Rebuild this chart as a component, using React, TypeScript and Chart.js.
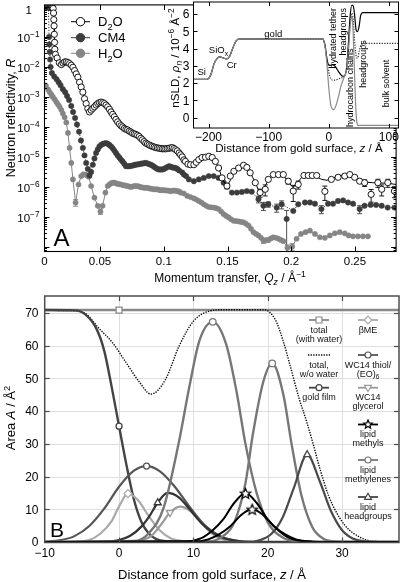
import React, { useEffect, useRef } from 'react';
import { Chart, registerables } from 'chart.js';

Chart.register(...registerables);

const FONT = '"Liberation Sans", Arial, Helvetica, sans-serif';

// ---------------- Panel A: reflectivity [Q (1/Å), log10 R, relative error] ----------------
const d2oData: number[][] = [
  [0.0112,-0.02],[0.0119,-0.01],[0.0126,-0.02],[0.0132,-0.05],[0.0135,-0.2],[0.0137,-0.42],[0.0139,-0.63],[0.0141,-0.91],
  [0.0143,-1.18],[0.0145,-1.41],[0.0150,-1.58],[0.0163,-1.7],[0.0180,-1.86],[0.0196,-1.92],[0.0209,-1.87],[0.0222,-1.83],
  [0.0235,-1.83],[0.0248,-1.85],[0.0261,-1.89],[0.0274,-1.94],[0.0287,-2.01],[0.0300,-2.12],[0.0313,-2.23],[0.0326,-2.34],
  [0.0339,-2.51],[0.0352,-2.67],[0.0365,-2.84],[0.0378,-3.06],[0.0391,-3.22],[0.0404,-3.39],[0.0417,-3.50],[0.0430,-3.44],
  [0.0443,-3.38],[0.0456,-3.33],[0.0469,-3.27],[0.0482,-3.22],[0.0495,-3.19],[0.0508,-3.17],[0.0521,-3.19],[0.0534,-3.22],
  [0.0547,-3.27],[0.0560,-3.33],[0.0573,-3.41],[0.0586,-3.50],[0.0599,-3.58],[0.0612,-3.66],[0.0625,-3.75],[0.0638,-3.83],
  [0.0651,-3.90],[0.0664,-3.96],[0.0677,-4.00],[0.0690,-4.05],[0.0703,-4.08],[0.0716,-4.10],[0.0729,-4.14],[0.0742,-4.17],
  [0.0755,-4.21],[0.0768,-4.23],[0.0781,-4.25],[0.0794,-4.28],[0.0807,-4.32],[0.0820,-4.38],[0.0833,-4.43],[0.0846,-4.49],
  [0.0859,-4.54],[0.0872,-4.57],[0.0885,-4.60],[0.0898,-4.63],[0.0911,-4.65],[0.0924,-4.67],[0.0937,-4.69],[0.0950,-4.70],
  [0.0963,-4.71],[0.0976,-4.72],[0.0989,-4.73],[0.1002,-4.73],[0.1015,-4.73],[0.1028,-4.72],[0.1041,-4.71],[0.1054,-4.70],
  [0.1067,-4.69],[0.1080,-4.72],[0.1093,-4.76],[0.1106,-4.80],[0.1120,-4.87],[0.1132,-4.93],[0.1145,-5.00],[0.1158,-5.10],
  [0.1170,-5.15],[0.1190,-5.24],[0.1210,-5.26],[0.1236,-5.26],[0.1255,-5.18],[0.1275,-5.09],[0.1300,-5.02],[0.1327,-5.01],
  [0.1353,-4.98],[0.1380,-5.02],[0.1405,-5.15],[0.1430,-5.37],[0.1457,-5.70],[0.1496,-5.97,0.2],[0.1522,-5.64],[0.1550,-5.48],
  [0.1587,-5.37],[0.1626,-5.28],[0.1652,-5.35],[0.1678,-5.53],[0.1718,-5.86],[0.1756,-6.19,0.3],[0.1796,-6.08,0.4],[0.1820,-5.75],
  [0.1860,-5.59],[0.1900,-5.59],[0.1938,-5.59],[0.1977,-5.81,0.2],[0.2016,-6.14,0.55],[0.2055,-5.92,0.3],[0.2100,-5.62],[0.2134,-5.62],
  [0.2165,-5.62],[0.2200,-5.62],[0.2264,-6.15,0.5],[0.2315,-5.75],[0.2368,-5.68],[0.2420,-5.64],[0.2460,-5.59],[0.2498,-5.68],
  [0.2537,-5.81],[0.2576,-5.86,0.25],[0.2627,-6.25,0.45],[0.2680,-5.86,0.3],[0.2710,-6.08,0.4],[0.2758,-5.86,0.3],[0.2810,-6.14,0.4]
];
const d2oFit: number[][] = [
  [0.1106,-4.8],[0.114,-4.95],[0.118,-5.15],[0.1215,-5.24],[0.125,-5.2],[0.129,-5.07],[0.133,-5.0],[0.137,-5.0],[0.140,-5.1],
  [0.143,-5.35],[0.146,-5.75],[0.1495,-5.97],[0.152,-5.8],[0.155,-5.5],[0.158,-5.35],[0.162,-5.27],[0.166,-5.38],[0.170,-5.7],
  [0.1745,-6.12],[0.1775,-6.15],[0.181,-5.85],[0.185,-5.62],[0.190,-5.56],[0.194,-5.62],[0.198,-5.85],[0.2015,-6.02],[0.205,-5.85],
  [0.209,-5.64],[0.214,-5.6],[0.219,-5.65],[0.224,-5.75],[0.228,-5.78],[0.233,-5.7],[0.238,-5.62],[0.243,-5.6],[0.248,-5.66],
  [0.253,-5.78],[0.258,-5.84],[0.264,-5.86],[0.270,-5.87],[0.276,-5.88],[0.2823,-5.92]
];
const cm4Data: number[][] = [
  [0.0072,-0.01],[0.0080,-0.01],[0.0088,-0.02],[0.0095,-0.02],[0.0100,-1.0],[0.0102,-1.25],[0.0105,-1.5],[0.0108,-1.75],
  [0.0112,-2.0],[0.0122,-2.2],[0.0140,-2.32],[0.0159,-2.41],[0.0175,-2.51],[0.0190,-2.61],[0.0208,-2.74],[0.0226,-2.84],
  [0.0241,-2.97],[0.0257,-3.10],[0.0274,-3.30],[0.0288,-3.50],[0.0304,-3.70],[0.0319,-3.92],[0.0335,-4.16],[0.0350,-4.45],
  [0.0365,-4.70],[0.0378,-4.95],[0.0391,-5.20],[0.0404,-5.40],[0.0417,-5.62,0.15],[0.0430,-5.50],[0.0443,-5.26],[0.0456,-5.05],
  [0.0469,-4.87],[0.0482,-4.75],[0.0495,-4.65],[0.0508,-4.60],[0.0521,-4.57],[0.0534,-4.55],[0.0547,-4.54],[0.0560,-4.56],
  [0.0573,-4.60],[0.0586,-4.65],[0.0599,-4.71],[0.0612,-4.79],[0.0625,-4.87],[0.0638,-4.95],[0.0651,-5.02],[0.0664,-5.09],
  [0.0677,-5.15],[0.0690,-5.23],[0.0703,-5.31],[0.0716,-5.31],[0.0729,-5.31],[0.0742,-5.30],[0.0755,-5.29],[0.0768,-5.27],
  [0.0781,-5.26],[0.0794,-5.25],[0.0807,-5.24],[0.0820,-5.23],[0.0833,-5.22],[0.0846,-5.21],[0.0859,-5.20],[0.0872,-5.22],
  [0.0885,-5.24],[0.0898,-5.26],[0.0911,-5.29],[0.0924,-5.33],[0.0937,-5.37],[0.0950,-5.40],[0.0963,-5.42],[0.0976,-5.42],
  [0.0989,-5.42],[0.1002,-5.40],[0.1015,-5.37],[0.1028,-5.34],[0.1041,-5.31],[0.1054,-5.33],[0.1067,-5.35],[0.1080,-5.36],
  [0.1093,-5.37],[0.1106,-5.40],[0.1120,-5.45],[0.1145,-5.52],[0.1158,-5.59],[0.1175,-5.64],[0.1197,-5.75],[0.1236,-5.81],
  [0.1275,-5.75],[0.1314,-5.70],[0.1353,-5.64],[0.1392,-5.64],[0.1430,-5.70],[0.1470,-5.86],[0.1496,-5.97],[0.1535,-6.19],
  [0.1574,-6.19],[0.1613,-6.17],[0.1652,-6.14],[0.1690,-6.16],[0.1743,-6.41,0.25],[0.1782,-6.63,0.3],[0.1820,-6.58,0.2],
  [0.1886,-6.69,0.3],[0.1925,-6.58,0.3],[0.1964,-7.07,0.93],[0.2016,-6.80],[0.2055,-6.58],[0.2108,-6.52],[0.2147,-6.52],
  [0.2186,-6.56],[0.2237,-6.74,0.3],[0.2289,-6.56],[0.2328,-6.56],[0.2367,-6.47],[0.2407,-6.45],[0.2446,-6.52],[0.2485,-6.56],
  [0.2537,-6.74,0.3],[0.2576,-6.63],[0.2623,-6.60],[0.2666,-6.60],[0.2710,-6.63],[0.2757,-6.69],[0.2810,-6.69]
];
const h2oData: number[][] = [
  [0.0075,-2.62],[0.0092,-2.75],[0.0105,-2.84],[0.0118,-2.92],[0.0130,-3.0],[0.0144,-3.08],[0.0157,-3.17],[0.0170,-3.25],
  [0.0183,-3.33],[0.0196,-3.43],[0.0208,-3.55],[0.0222,-3.68],[0.0235,-3.85],[0.0248,-4.2],[0.0261,-4.7],[0.0274,-5.2],
  [0.0287,-5.75],[0.0308,-6.52,0.25],[0.0331,-5.92],[0.0352,-5.64],[0.0369,-5.58],[0.0386,-5.59],[0.0398,-5.62],[0.0411,-5.66],
  [0.0430,-5.97],[0.0456,-6.36],[0.0482,-6.63],[0.0503,-6.82,0.2],[0.0520,-6.63],[0.0542,-6.19],[0.0560,-5.97],[0.0573,-5.92],
  [0.0586,-5.88],[0.0599,-5.86],[0.0612,-5.86],[0.0625,-5.88],[0.0638,-5.90],[0.0651,-5.91],[0.0664,-5.92],[0.0677,-5.94],
  [0.0690,-5.95],[0.0703,-5.96],[0.0716,-5.97],[0.0729,-5.99],[0.0742,-6.00],[0.0755,-5.99],[0.0768,-5.97],[0.0781,-5.97],
  [0.0794,-5.97],[0.0807,-5.99],[0.0820,-6.01],[0.0833,-6.02],[0.0846,-6.03],[0.0859,-6.03],[0.0872,-6.03],[0.0885,-6.05],
  [0.0898,-6.06],[0.0911,-6.07],[0.0924,-6.08],[0.0937,-6.08],[0.0950,-6.08],[0.0963,-6.10],[0.0976,-6.11],[0.0989,-6.11],
  [0.1002,-6.11],[0.1015,-6.12],[0.1028,-6.12],[0.1041,-6.13],[0.1054,-6.14],[0.1067,-6.13],[0.1080,-6.12],[0.1093,-6.13],
  [0.1106,-6.14],[0.1120,-6.15],[0.1132,-6.19],[0.1158,-6.22],[0.1184,-6.30],[0.1210,-6.34],[0.1236,-6.38],[0.1255,-6.42],
  [0.1275,-6.47],[0.1295,-6.52],[0.1314,-6.58],[0.1334,-6.63],[0.1353,-6.67],[0.1372,-6.68],[0.1392,-6.69],[0.1411,-6.71],
  [0.1430,-6.74],[0.1450,-6.82],[0.1470,-6.91],[0.1490,-6.97],[0.1509,-7.02],[0.1528,-7.08],[0.1548,-7.13],[0.1567,-7.14],
  [0.1587,-7.15],[0.1606,-7.17],[0.1626,-7.18],[0.1645,-7.23],[0.1665,-7.29],[0.1685,-7.40],[0.1704,-7.51],[0.1724,-7.57],
  [0.1743,-7.62],[0.1763,-7.70],[0.1782,-7.79,0.2],[0.1801,-7.78],[0.1820,-7.77,0.15],[0.1840,-7.72],[0.1860,-7.68],[0.1880,-7.70],
  [0.1900,-7.73],[0.1919,-7.77],[0.1938,-7.81],[0.1970,-8.03,0.25],[0.2008,-7.99,0.25],[0.2042,-7.73],[0.2076,-7.57],[0.2112,-7.51],
  [0.2147,-7.46],[0.2186,-7.57],[0.2225,-7.68],[0.2264,-7.70],[0.2303,-7.62],[0.2342,-7.55],[0.2381,-7.51],[0.2420,-7.55],
  [0.2451,-7.62],[0.2485,-7.65],[0.2524,-7.65],[0.2563,-7.65],[0.2602,-7.65]
];
const qTicks = [0.05, 0.1, 0.15, 0.2, 0.25];
const qTickLabels = ['0.05', '0.1', '0.15', '0.2', '0.25'];
const qMin = 0.0064;
const qMax = 0.2823;
const logRMin = -8.15;
const logRMax = 0.07;
const rDecades = [-1, -2, -3, -4, -5, -6, -7];

// ---------------- Inset: nSLD profiles [z (Å), nSLD (10^-6 Å^-2)] ----------------
const nsldSubstrate: number[][] = [
  [-225,2.22],[-204,2.22],[-200,2.26],[-196,2.5],[-191,3.1],[-186,3.42],[-181,3.52],[-176,3.46],[-170,3.4],
  [-165,3.55],[-160,4.0],[-155,4.4],[-150,4.55],[-100,4.56],[-50,4.56],[-10,4.56]
];
const nsldD2OTail: number[][] = [
  [-6,4.15],[-3.3,3.45],[-0.5,3.07],[2.3,3.03],[6.7,3.07],[10.6,2.97],[16,2.68],[21.6,2.43],[25.5,2.39],[30,2.97],
  [32.7,4.31],[35.5,5.85],[38.2,6.5],[40.5,6.5],[42.7,6.04],[45.5,5.08],[47.7,4.98],[50.4,5.27],[53.2,5.94],[56.5,6.08],
  [63,6.08],[116,6.08]
];
const nsldCM4Tail: number[][] = [
  [-6,4.1],[-3.3,3.5],[0,2.65],[3,2.28],[6,2.18],[10,2.17],[15,2.22],[20,2.3],[25.5,2.39],[30,2.9],[32.7,4.1],
  [35.5,5.5],[38.5,6.05],[41,5.5],[43.5,4.2],[46,3.5],[48,3.45],[51,3.9],[54,4.25],[58,4.3],[116,4.3]
];
const nsldH2OTail: number[][] = [
  [-6,4.05],[-3.3,3.2],[0,1.75],[3,0.8],[6,0.5],[8.5,0.47],[12,0.7],[16,1.2],[20,1.8],[25.5,2.35],[30,2.85],[33,4.0],
  [36,5.4],[38.5,5.9],[40.5,5.0],[42.5,2.9],[44.5,0.9],[46.5,-0.2],[49,-0.45],[116,-0.45]
];
const insetZTicks = [-200, -100, 0, 100];
const insetZLabels = ['\u2212200', '\u2212100', '0', '100'];
const insetNsldTicks = [0, 1, 2, 3, 4, 5, 6];

// ---------------- Panel B: area profiles [z (Å), A (Å^2)] ----------------
const bTotalWater: number[][] = [[-10,70.9],[0,70.9],[37.65,70.9]];
const bTotalDry: number[][] = [
  [-10,70.8],[-6,70.7],[-4.5,69.8],[-2.7,65.3],[-0.9,61],[0.9,55],[2.7,49],[4.3,45.2],[6.2,49.5],[8.1,60],[10,67.5],
  [12,70.5],[14,71],[19.5,71],[21,68],[22,62],[23,54],[24.2,44],[25.2,37],[26.1,30],[27,22.5],[28.2,14],[29.3,8.8],
  [30.4,5],[31.5,2.7],[33.3,0.6],[35,0.1],[37.65,0]
];
const bGold: number[][] = [
  [-10,70.9],[-6,70.8],[-4.5,69.5],[-3,65],[-2,58.5],[-1,47.5],[0,35.4],[1,23.5],[2,13],[3,6.2],[4,2.6],[5,0.9],
  [6.5,0.15],[8,0],[37.65,0]
];
const bThiol: number[][] = [
  [-10,0.1],[-8,0.5],[-6,1.8],[-4,4.9],[-2,10.2],[0,16.9],[2,21.8],[3.7,23.2],[5.5,21.6],[7.5,16.9],[9.5,10.7],
  [11.5,5.2],[13.5,1.9],[15.5,0.5],[18,0],[37.65,0]
];
const bBME: number[][] = [
  [-10,0],[-6,0.1],[-4,0.6],[-2.5,2.6],[-1,6.4],[0,10.9],[1.2,14.8],[2.5,12.9],[4,7.9],[5.5,3.5],[7,1.1],[9,0.2],
  [11,0],[37.65,0]
];
const bGlycerol: number[][] = [
  [-10,0],[1,0],[3,0.5],[4.5,2.2],[5.8,5.8],[6.85,9.0],[8.2,10.8],[9.5,9.6],[11,6],[12.5,2.6],[14,0.8],[16,0.1],
  [18,0],[37.65,0]
];
const bHeadInner: number[][] = [
  [-10,0],[-2,0.1],[0,0.6],[1.5,1.9],[3,4.7],[4,7.6],[5.2,12],[6.5,15],[8,13.7],[9.5,10],[11,6],[12.5,3],[14,1.2],
  [16,0.3],[18,0],[37.65,0]
];
const bHeadOuter: number[][] = [
  [-10,0],[17,0],[19,0.6],[20.5,2.5],[22,7.5],[23.5,16.5],[25.3,26.7],[27,18.5],[28.5,9.5],[30,3.6],[31.5,1],
  [33,0.2],[35,0],[37.65,0]
];
const bCH2Inner: number[][] = [
  [-10,0],[2,0.3],[4,2.7],[6,10.5],[8,30],[9.5,48],[10.8,61.5],[12.6,67.3],[14.4,60.5],[15.8,46],[17,30],[18.5,15],
  [20,6],[22,1.4],[24,0.2],[26,0],[37.65,0]
];
const bCH2Outer: number[][] = [
  [-10,0],[12,0.2],[14,1.8],[15.5,6],[17,18],[18,33],[19.4,49],[20.6,54.6],[22.1,45],[23.2,30],[24.5,14.5],[26,4.5],
  [27.5,1],[29,0.15],[31,0],[37.65,0]
];
const bCH3A: number[][] = [
  [-10,0],[9,0.2],[11,1.1],[12.6,3.6],[14,6.9],[15.5,12],[17,14.9],[18.5,12],[20,6.9],[21.4,3.6],[23,1.1],[25,0.2],
  [27,0],[37.65,0]
];
const bCH3B: number[][] = [
  [-10,0],[10,0.1],[12,0.8],[13.5,2.4],[15,4.9],[16.5,8.4],[17.9,10],[19.3,8.4],[20.8,4.9],[22.3,2.4],[23.8,0.8],
  [26,0.1],[28,0],[37.65,0]
];
const bZTicks = [-10, 0, 10, 20, 30];
const bZLabels = ['\u221210', '0', '10', '20', '30'];
const bATicks = [0, 10, 20, 30, 40, 50, 60, 70];

// ---------------- drawing helpers ----------------
type Seg = { t: string; k?: number; it?: boolean; dy?: number };
const SUP = (t: string): Seg => ({ t, k: 0.72, dy: -0.42 });
const SUB = (t: string, it = false): Seg => ({ t, k: 0.72, dy: 0.28, it });

function fnt(size: number, it?: boolean) {
  return `${it ? 'italic ' : ''}${size}px ${FONT}`;
}
function richW(ctx: CanvasRenderingContext2D, segs: Seg[], size: number) {
  let w = 0;
  for (const s of segs) {
    ctx.font = fnt(size * (s.k || 1), s.it);
    w += ctx.measureText(s.t).width;
  }
  return w;
}
function rich(ctx: CanvasRenderingContext2D, x: number, y: number, segs: Seg[], size: number, align = 'left', color = '#000') {
  const w = richW(ctx, segs, size);
  let cx = align === 'center' ? x - w / 2 : align === 'right' ? x - w : x;
  ctx.fillStyle = color;
  ctx.textBaseline = 'alphabetic';
  ctx.textAlign = 'left';
  for (const s of segs) {
    ctx.font = fnt(size * (s.k || 1), s.it);
    ctx.fillText(s.t, cx, y + (s.dy || 0) * size);
    cx += ctx.measureText(s.t).width;
  }
}
// text centred vertically at cy (visual centre of digits/caps)
function richC(ctx: CanvasRenderingContext2D, x: number, cy: number, segs: Seg[], size: number, align = 'left', color = '#000') {
  rich(ctx, x, cy + size * 0.36, segs, size, align, color);
}
// rotated (reads bottom->top); cx = visual centre x, y = anchor along the text
function richRot(ctx: CanvasRenderingContext2D, cx: number, y: number, segs: Seg[], size: number, align = 'center', color = '#000') {
  ctx.save();
  ctx.translate(cx + size * 0.36, y);
  ctx.rotate(-Math.PI / 2);
  rich(ctx, 0, 0, segs, size, align, color);
  ctx.restore();
}
function marker(ctx: CanvasRenderingContext2D, kind: string, x: number, y: number, r: number, stroke: string, fill: string | null, lw = 1) {
  ctx.save();
  ctx.beginPath();
  if (kind === 'circle') ctx.arc(x, y, r, 0, Math.PI * 2);
  else if (kind === 'square') ctx.rect(x - r, y - r, 2 * r, 2 * r);
  else if (kind === 'diamond') {
    ctx.moveTo(x, y - r); ctx.lineTo(x + r, y); ctx.lineTo(x, y + r); ctx.lineTo(x - r, y);
  } else if (kind === 'tri') {
    ctx.moveTo(x, y - r); ctx.lineTo(x + r * 0.9, y + r * 0.6); ctx.lineTo(x - r * 0.9, y + r * 0.6);
  } else if (kind === 'tridown') {
    ctx.moveTo(x, y + r); ctx.lineTo(x + r * 0.9, y - r * 0.6); ctx.lineTo(x - r * 0.9, y - r * 0.6);
  } else if (kind === 'star') {
    for (let i = 0; i < 10; i++) {
      const rr = i % 2 === 0 ? r : r * 0.45;
      const a = -Math.PI / 2 + (i * Math.PI) / 5;
      const px = x + rr * Math.cos(a), py = y + rr * Math.sin(a);
      if (i === 0) ctx.moveTo(px, py); else ctx.lineTo(px, py);
    }
  }
  ctx.closePath();
  if (fill) { ctx.fillStyle = fill; ctx.fill(); }
  ctx.lineWidth = lw;
  ctx.strokeStyle = stroke;
  ctx.stroke();
  ctx.restore();
}
function line(ctx: CanvasRenderingContext2D, x1: number, y1: number, x2: number, y2: number) {
  ctx.beginPath(); ctx.moveTo(x1, y1); ctx.lineTo(x2, y2); ctx.stroke();
}

const xyLog = (arr: number[][]) => arr.map((p) => ({ x: p[0], y: Math.pow(10, p[1]) }));

export default function App() {
  const refA = useRef<HTMLCanvasElement>(null);
  const refI = useRef<HTMLCanvasElement>(null);
  const refB = useRef<HTMLCanvasElement>(null);

  useEffect(() => {
    document.body.style.margin = '0';
    const charts: Chart[] = [];

    // ---------- Panel A ----------
    const d2oLine = d2oData.filter((p) => p[0] < 0.11).map((p) => [p[0], p[1]]).concat(d2oFit);
    const cm4Line = cm4Data.filter((p) => (p[2] || 0) < 0.5);
    const seriesErr: [number[][], string][] = [[d2oData, '#000'], [cm4Data, '#3c3c3c'], [h2oData, '#858585']];

    const aPlugin = {
      id: 'aDecor',
      beforeDatasetsDraw(chart: any) {
        const ctx = chart.ctx as CanvasRenderingContext2D;
        const xs = chart.scales.x, ys = chart.scales.y, a = chart.chartArea;
        ctx.save();
        ctx.beginPath(); ctx.rect(a.left, a.top, a.right - a.left, a.bottom - a.top); ctx.clip();
        ctx.lineWidth = 0.9;
        for (const [arr, col] of seriesErr) {
          ctx.strokeStyle = col;
          for (const p of arr) {
            const e = p[2];
            if (!e) continue;
            const R = Math.pow(10, p[1]);
            const x = xs.getPixelForValue(p[0]);
            const y1 = ys.getPixelForValue(R * (1 + e));
            const y2 = ys.getPixelForValue(Math.max(R * (1 - e), 1e-12));
            line(ctx, x, y1, x, y2);
            line(ctx, x - 2.5, y1, x + 2.5, y1);
            line(ctx, x - 2.5, y2, x + 2.5, y2);
          }
        }
        ctx.restore();
      },
      afterDraw(chart: any) {
        const ctx = chart.ctx as CanvasRenderingContext2D;
        const xs = chart.scales.x, ys = chart.scales.y, a = chart.chartArea;
        ctx.save();
        ctx.strokeStyle = '#000';
        ctx.lineWidth = 1;
        // ticks
        for (const q of qTicks) {
          const x = Math.round(xs.getPixelForValue(q)) + 0.5;
          line(ctx, x, a.bottom, x, a.bottom - 5);
          line(ctx, x, a.top, x, a.top + 5);
        }
        for (let d = -9; d <= 0; d++) {
          for (let k = 1; k <= 9; k++) {
            const v = k * Math.pow(10, d);
            const lv = Math.log10(v);
            if (lv < logRMin || lv > logRMax) continue;
            const y = Math.round(ys.getPixelForValue(v)) + 0.5;
            const len = k === 1 ? 5 : 2.5;
            line(ctx, a.left, y, a.left + len, y);
            line(ctx, a.right, y, a.right - len, y);
          }
        }
        // frame
        ctx.lineWidth = 1.1;
        ctx.strokeRect(a.left, a.top, a.right - a.left, a.bottom - a.top);
        // tick labels
        for (let i = 0; i < qTicks.length; i++) {
          richC(ctx, xs.getPixelForValue(qTicks[i]), 260.5, [{ t: qTickLabels[i] }], 11.5, 'center');
        }
        richC(ctx, a.left, 260.5, [{ t: '0' }], 11.5, 'center');
        richC(ctx, 32, 9.5, [{ t: '1' }], 11.5, 'right');
        for (const d of rDecades) {
          const y = ys.getPixelForValue(Math.pow(10, d));
          richC(ctx, 39.5, y + 0.5, [{ t: '10' }, SUP('\u2212' + String(-d))], 11.5, 'right');
        }
        // axis titles
        richC(ctx, 230, 277.5, [{ t: 'Momentum transfer, ' }, { t: 'Q', it: true }, SUB('z', true), { t: ' / \u00C5' }, SUP('\u22121')], 12, 'center');
        richRot(ctx, 10.5, 118, [{ t: 'Neutron reflectivity, ' }, { t: 'R', it: true }], 12.5, 'center');
        // legend
        const leg: [string, string, string | null, number, Seg[]][] = [
          ['circle', '#000', '#fff', 21.7, [{ t: 'D' }, SUB('2'), { t: 'O' }]],
          ['circle', '#3c3c3c', '#3c3c3c', 37.7, [{ t: 'CM4' }]],
          ['circle', '#858585', '#858585', 53.3, [{ t: 'H' }, SUB('2'), { t: 'O' }]],
        ];
        for (const [kind, st, fi, y, segs] of leg) {
          ctx.strokeStyle = st; ctx.lineWidth = 1;
          line(ctx, 71, y, 90, y);
          marker(ctx, kind, 80.5, y, 4.2, st, fi, 1);
          richC(ctx, 98, y, segs, 13, 'left');
        }
        // panel letter
        ctx.fillStyle = '#000';
        ctx.font = fnt(24);
        ctx.textAlign = 'left'; ctx.textBaseline = 'alphabetic';
        ctx.fillText('A', 53.5, 246);
        ctx.restore();
      },
    };

    charts.push(new Chart(refA.current as HTMLCanvasElement, {
      type: 'scatter',
      data: {
        datasets: [
          { data: xyLog(d2oData), showLine: false, pointRadius: 3.1, pointBackgroundColor: '#fff', pointBorderColor: '#000', pointBorderWidth: 0.9 },
          { data: xyLog(d2oLine), showLine: true, borderColor: '#000', borderWidth: 1, pointRadius: 0 },
          { data: xyLog(cm4Data), showLine: false, pointRadius: 2.7, pointBackgroundColor: '#3c3c3c', pointBorderColor: '#3c3c3c', pointBorderWidth: 0.5 },
          { data: xyLog(cm4Line), showLine: true, borderColor: '#2a2a2a', borderWidth: 1, borderDash: [1.2, 1.6], pointRadius: 0 },
          { data: xyLog(h2oData), showLine: false, pointRadius: 2.6, pointBackgroundColor: '#858585', pointBorderColor: '#858585', pointBorderWidth: 0.5 },
          { data: xyLog(h2oData), showLine: true, borderColor: '#858585', borderWidth: 1, pointRadius: 0 },
        ] as any,
      },
      options: {
        animation: false,
        responsive: false,
        devicePixelRatio: 1,
        events: [],
        layout: { padding: { left: 44.5, right: 2, top: 2, bottom: 38.5 } },
        plugins: { legend: { display: false }, tooltip: { enabled: false } },
        scales: {
          x: { type: 'linear', min: qMin, max: qMax, display: false },
          y: { type: 'logarithmic', min: Math.pow(10, logRMin), max: Math.pow(10, logRMax), display: false },
        },
      } as any,
      plugins: [aPlugin],
    }));

    // ---------- Inset ----------
    const xy = (arr: number[][]) => arr.map((p) => ({ x: p[0], y: p[1] }));
    const insetPlugin = {
      id: 'insetDecor',
      beforeDraw(chart: any) {
        const ctx = chart.ctx as CanvasRenderingContext2D, a = chart.chartArea;
        ctx.save();
        ctx.fillStyle = '#fff';
        ctx.fillRect(a.left, a.top, a.right - a.left, a.bottom - a.top);
        ctx.restore();
      },
      afterDraw(chart: any) {
        const ctx = chart.ctx as CanvasRenderingContext2D;
        const xs = chart.scales.x, ys = chart.scales.y, a = chart.chartArea;
        ctx.save();
        ctx.strokeStyle = '#000'; ctx.lineWidth = 1;
        for (const z of insetZTicks) {
          const x = Math.round(xs.getPixelForValue(z)) + 0.5;
          line(ctx, x, a.bottom, x, a.bottom - 4);
          line(ctx, x, a.top, x, a.top + 4);
        }
        for (const v of insetNsldTicks) {
          const y = Math.round(ys.getPixelForValue(v)) + 0.5;
          line(ctx, a.left, y, a.left + 4, y);
          line(ctx, a.right, y, a.right - 4, y);
        }
        ctx.strokeRect(a.left, a.top, a.right - a.left, a.bottom - a.top);
        for (let i = 0; i < insetZTicks.length; i++) {
          richC(ctx, xs.getPixelForValue(insetZTicks[i]), 136.8, [{ t: insetZLabels[i] }], 12, 'center');
        }
        for (const v of insetNsldTicks) {
          richC(ctx, 189.5, ys.getPixelForValue(v), [{ t: String(v) }], 12, 'right');
        }
        richC(ctx, 299, 147.8, [{ t: 'Distance from gold surface, ' }, { t: 'z', it: true }, { t: ' / \u00C5' }], 11.6, 'center');
        richRot(ctx, 175, 58, [{ t: 'nSLD, ' }, { t: '\u03C1', it: true }, SUB('n', true), { t: ' / 10' }, SUP('\u22126'), { t: ' \u00C5' }, SUP('\u22122')], 11.6, 'center');
        // annotations
        richC(ctx, 201.7, 71.7, [{ t: 'Si' }], 9.5, 'center');
        richC(ctx, 218.5, 50, [{ t: 'SiO' }, SUB('x')], 9.5, 'center');
        richC(ctx, 231.7, 65, [{ t: 'Cr' }], 9.5, 'center');
        richC(ctx, 273.3, 33.3, [{ t: 'gold' }], 9.5, 'center');
        richRot(ctx, 332.5, 8, [{ t: 'hydrated tether' }], 9, 'right');
        richRot(ctx, 342.5, 8, [{ t: 'headgroups' }], 9, 'right');
        richRot(ctx, 349.3, 127, [{ t: 'hydrocarbon chains' }], 9, 'left');
        richRot(ctx, 362.5, 64, [{ t: 'headgroups' }], 9, 'center');
        richRot(ctx, 386, 83.5, [{ t: 'bulk solvent' }], 9, 'center');
        ctx.restore();
      },
    };
    const insetDs = (tail: number[][], color: string, dash: number[]) => ({
      data: xy(nsldSubstrate.concat(tail)),
      borderColor: color, borderWidth: 1.2, borderDash: dash, pointRadius: 0,
      cubicInterpolationMode: 'monotone', fill: false,
    });
    charts.push(new Chart(refI.current as HTMLCanvasElement, {
      type: 'line',
      data: {
        datasets: [
          insetDs(nsldH2OTail, '#8a8a8a', []),
          insetDs(nsldCM4Tail, '#2a2a2a', [1.2, 1.4]),
          insetDs(nsldD2OTail, '#000', []),
        ] as any,
      },
      options: {
        animation: false,
        responsive: false,
        devicePixelRatio: 1,
        events: [],
        layout: { padding: { left: 193.5, right: 2.5, top: 2, bottom: 32 } },
        plugins: { legend: { display: false }, tooltip: { enabled: false } },
        scales: {
          x: { type: 'linear', min: -225, max: 116, display: false },
          y: { type: 'linear', min: -0.6, max: 6.7, display: false },
        },
      } as any,
      plugins: [insetPlugin],
    }));

    // ---------- Panel B ----------
    const starImg = document.createElement('canvas');
    starImg.width = 13; starImg.height = 13;
    marker(starImg.getContext('2d') as CanvasRenderingContext2D, 'star', 6.5, 7, 5.5, '#000', '#fff', 1.2);

    const bDs = (pts: number[][], mark: number | null, color: string, width: number, style: any, radius: number, rot = 0, dash: number[] = []) => ({
      data: pts.map((p) => ({ x: p[0], y: p[1] })),
      borderColor: color, borderWidth: width, borderDash: dash,
      cubicInterpolationMode: 'monotone', fill: false,
      pointRadius: (c: any) => (mark !== null && c.raw && c.raw.x === mark ? radius : 0),
      pointStyle: style, rotation: rot,
      pointBackgroundColor: '#fff', pointBorderColor: color, pointBorderWidth: 1.3,
    });

    const bLegend = [
      { x: 319, y: 30, kind: 'square', col: '#888', lines: [[{ t: 'total' }], [{ t: '(with water)' }]] },
      { x: 319, y: 65, kind: 'dotted', col: '#000', lines: [[{ t: 'total,' }], [{ t: 'w/o water' }]] },
      { x: 319, y: 97.7, kind: 'circle', col: '#444', lines: [[{ t: 'gold film' }]] },
      { x: 368, y: 30, kind: 'diamond', col: '#aaa', lines: [[{ t: '\u03B2ME' }]] },
      { x: 368, y: 65, kind: 'circle', col: '#555', lines: [[{ t: 'WC14 thiol/' }], [{ t: '(EO)' }, SUB('6')]] },
      { x: 368, y: 97.7, kind: 'tridown', col: '#999', lines: [[{ t: 'WC14' }], [{ t: 'glycerol' }]] },
      { x: 368, y: 134.5, kind: 'star', col: '#000', lines: [[{ t: 'lipid' }], [{ t: 'methyls' }]] },
      { x: 368, y: 170, kind: 'circle', col: '#777', lines: [[{ t: 'lipid' }], [{ t: 'methylenes' }]] },
      { x: 368, y: 207, kind: 'tri', col: '#444', lines: [[{ t: 'lipid' }], [{ t: 'headgroups' }]] },
    ];

    const bPlugin = {
      id: 'bDecor',
      beforeDatasetsDraw(chart: any) {
        const ctx = chart.ctx as CanvasRenderingContext2D;
        const xs = chart.scales.x, ys = chart.scales.y, a = chart.chartArea;
        ctx.save();
        ctx.strokeStyle = '#dedede'; ctx.lineWidth = 1;
        for (const z of bZTicks) {
          const x = Math.round(xs.getPixelForValue(z)) + 0.5;
          if (x <= a.left + 1) continue;
          line(ctx, x, a.top, x, a.bottom);
        }
        for (const v of bATicks) {
          if (v === 0) continue;
          const y = Math.round(ys.getPixelForValue(v)) + 0.5;
          line(ctx, a.left, y, a.right, y);
        }
        ctx.restore();
      },
      afterDraw(chart: any) {
        const ctx = chart.ctx as CanvasRenderingContext2D;
        const xs = chart.scales.x, ys = chart.scales.y, a = chart.chartArea;
        ctx.save();
        ctx.strokeStyle = '#4d4d4d'; ctx.lineWidth = 1.2;
        for (const z of bZTicks) {
          const x = Math.round(xs.getPixelForValue(z)) + 0.5;
          if (x <= a.left + 1) continue;
          line(ctx, x, a.top, x, a.top + 5);
          line(ctx, x, a.bottom, x, a.bottom - 5);
        }
        for (const v of bATicks) {
          if (v === 0) continue;
          const y = Math.round(ys.getPixelForValue(v)) + 0.5;
          line(ctx, a.left, y, a.left + 5, y);
          line(ctx, a.right, y, a.right - 5, y);
        }
        ctx.lineWidth = 1.5;
        ctx.strokeRect(a.left, a.top, a.right - a.left, a.bottom - a.top);
        for (let i = 0; i < bZTicks.length; i++) {
          richC(ctx, xs.getPixelForValue(bZTicks[i]), 263, [{ t: bZLabels[i] }], 12, 'center');
        }
        for (const v of bATicks) {
          richC(ctx, 38.5, ys.getPixelForValue(v), [{ t: String(v) }], 12, 'right');
        }
        richC(ctx, 212, 284, [{ t: 'Distance from gold surface, ' }, { t: 'z', it: true }, { t: ' / \u00C5' }], 13, 'center');
        richRot(ctx, 10.5, 128, [{ t: 'Area ' }, { t: 'A', it: true }, { t: ' / \u00C5' }, SUP('2')], 13, 'center');
        // legend
        for (const it of bLegend) {
          ctx.strokeStyle = it.col;
          if (it.kind === 'dotted') {
            ctx.lineWidth = 1.3; ctx.setLineDash([1.3, 1.3]);
            line(ctx, it.x - 11, it.y, it.x + 11, it.y);
            ctx.setLineDash([]);
          } else {
            ctx.lineWidth = 1.8;
            line(ctx, it.x - 10, it.y, it.x + 10, it.y);
            const r = it.kind === 'star' ? 4.5 : it.kind === 'square' ? 3 : it.kind === 'circle' ? 3 : 3.8;
            marker(ctx, it.kind, it.x, it.y, r, it.col, '#fff', 1.2);
          }
          it.lines.forEach((segs: Seg[], j: number) => {
            richC(ctx, it.x, it.y + 9.3 + j * 9, segs, 9, 'center', '#111');
          });
        }
        ctx.fillStyle = '#000';
        ctx.font = fnt(21);
        ctx.textAlign = 'left'; ctx.textBaseline = 'alphabetic';
        ctx.fillText('B', 50, 246.7);
        ctx.restore();
      },
    };

    charts.push(new Chart(refB.current as HTMLCanvasElement, {
      type: 'line',
      data: {
        datasets: [
          bDs(bCH3A, 17, '#000', 2, starImg, 5),
          bDs(bCH3B, 17.9, '#000', 2, starImg, 5),
          bDs(bHeadOuter, 25.3, '#4a4a4a', 2.2, 'triangle', 4),
          bDs(bCH2Outer, 20.6, '#777', 2.4, 'circle', 3.3),
          bDs(bCH2Inner, 12.6, '#777', 2.4, 'circle', 3.3),
          bDs(bHeadInner, 5.2, '#333', 2.2, 'triangle', 4),
          bDs(bGlycerol, 6.85, '#9a9a9a', 2.2, 'triangle', 4, 180),
          bDs(bThiol, 3.7, '#555', 2.2, 'circle', 3),
          bDs(bBME, 1.2, '#aaa', 2.2, 'rectRot', 4),
          bDs(bGold, 0, '#444', 2.4, 'circle', 3),
          bDs(bTotalDry, null, '#000', 1.4, 'circle', 0, 0, [1.3, 1.3]),
          bDs(bTotalWater, 0, '#888', 2.6, 'rect', 4.2),
        ] as any,
      },
      options: {
        animation: false,
        responsive: false,
        devicePixelRatio: 1,
        events: [],
        layout: { padding: { left: 44.7, right: 2, top: 6, bottom: 39.5 } },
        plugins: { legend: { display: false }, tooltip: { enabled: false } },
        scales: {
          x: { type: 'linear', min: -10, max: 37.65, display: false },
          y: { type: 'linear', min: -0.15, max: 75.2, display: false },
        },
      } as any,
      plugins: [bPlugin],
    }));

    return () => charts.forEach((c) => c.destroy());
  }, []);

  return (
    <div style={{ position: 'relative', width: 401, height: 582, background: '#fff', overflow: 'hidden' }}>
      <canvas ref={refA} width={401} height={290} style={{ position: 'absolute', left: 0, top: 0, width: 401, height: 290 }} />
      <canvas ref={refI} width={401} height={160} style={{ position: 'absolute', left: 0, top: 0, width: 401, height: 160 }} />
      <canvas ref={refB} width={401} height={292} style={{ position: 'absolute', left: 0, top: 290, width: 401, height: 292 }} />
    </div>
  );
}
